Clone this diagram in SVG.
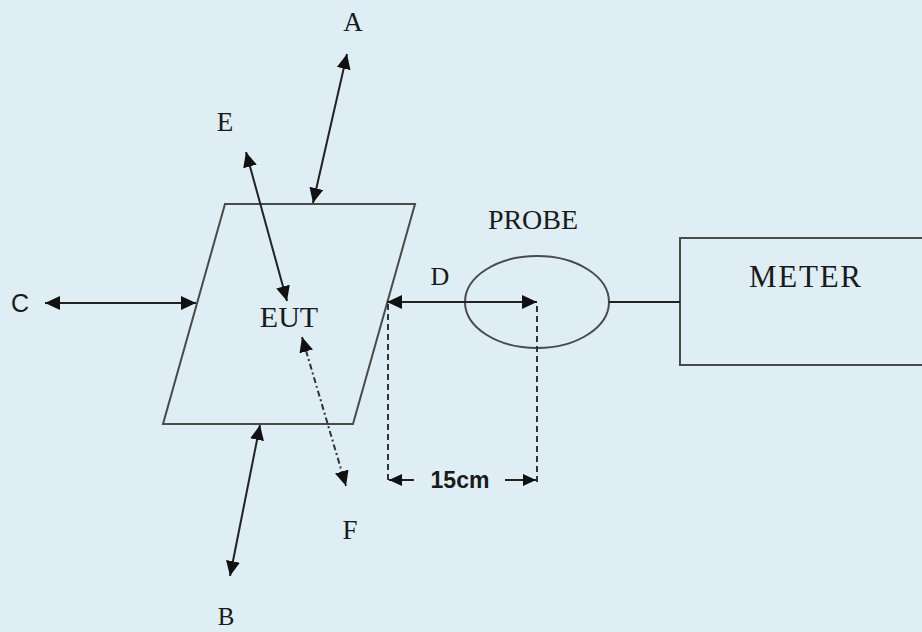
<svg xmlns="http://www.w3.org/2000/svg" width="922" height="632" viewBox="0 0 922 632">
<defs>
<marker id="ah" markerUnits="userSpaceOnUse" markerWidth="16" markerHeight="14" refX="15" refY="7" orient="auto-start-reverse" viewBox="0 0 16 14">
<path d="M0,0 L15,7 L0,14 z" fill="#111"/>
</marker>
<marker id="ahs" markerUnits="userSpaceOnUse" markerWidth="14" markerHeight="12" refX="13" refY="6" orient="auto-start-reverse" viewBox="0 0 14 12">
<path d="M0,0 L13,6 L0,12 z" fill="#111"/>
</marker>
</defs>
<style>
.serif{font-family:"Liberation Serif","Times New Roman",serif;fill:#1a1a1a}
.sans{font-family:"Liberation Sans",Arial,sans-serif;fill:#1a1a1a}
.shape{fill:none;stroke:#4a4a4a;stroke-width:2}
.conn{fill:none;stroke:#222;stroke-width:2}
.dash{fill:none;stroke:#333;stroke-width:2;stroke-dasharray:6,4}
.dot{fill:none;stroke:#333;stroke-width:2;stroke-dasharray:6,3,2,3}
</style>
<rect x="0" y="0" width="922" height="632" fill="#deeef4"/>
<g id="eut">
<polygon class="shape" points="225,204 415,204 353,424 163,424"/>
<text class="serif" x="289" y="327" font-size="30" text-anchor="middle">EUT</text>
</g>
<g id="probe">
<ellipse class="shape" cx="537" cy="302" rx="72" ry="46"/>
<text class="serif" x="533" y="229" font-size="28" text-anchor="middle">PROBE</text>
</g>
<g id="meter">
<rect class="shape" x="680" y="238" width="260" height="127"/>
<text class="serif" x="805" y="287" font-size="31" text-anchor="middle" textLength="112" lengthAdjust="spacing">METER</text>
</g>
<g id="label-a"><text class="serif" x="353" y="31" font-size="27" text-anchor="middle">A</text></g>
<g id="label-e"><text class="serif" x="225" y="131" font-size="27" text-anchor="middle">E</text></g>
<g id="label-c"><text class="sans" x="20" y="312" font-size="25" text-anchor="middle">C</text></g>
<g id="label-d"><text class="serif" x="440" y="285" font-size="26" text-anchor="middle">D</text></g>
<g id="label-f"><text class="serif" x="350" y="539" font-size="27" text-anchor="middle">F</text></g>
<g id="label-b"><text class="serif" x="226" y="625" font-size="25" text-anchor="middle">B</text></g>
<g id="label-15cm"><text class="sans" x="460" y="488" font-size="23" font-weight="bold" text-anchor="middle">15cm</text></g>
<g id="connectors">
<line class="conn" x1="347" y1="54" x2="313" y2="203" marker-start="url(#ah)" marker-end="url(#ah)"/>
<line class="conn" x1="246" y1="152" x2="287" y2="301" marker-start="url(#ah)" marker-end="url(#ah)"/>
<line class="conn" x1="45" y1="303" x2="196" y2="303" marker-start="url(#ah)" marker-end="url(#ah)"/>
<line class="conn" x1="387" y1="302" x2="537" y2="302" marker-start="url(#ah)" marker-end="url(#ah)"/>
<line class="dot" x1="302" y1="337" x2="346" y2="486" marker-start="url(#ah)" marker-end="url(#ah)"/>
<line class="conn" x1="260" y1="425" x2="230" y2="576" marker-start="url(#ah)" marker-end="url(#ah)"/>
<line class="conn" x1="609" y1="302" x2="680" y2="302"/>
<line class="dash" x1="388" y1="304" x2="388" y2="484"/>
<line class="dash" x1="537" y1="306" x2="537" y2="484"/>
<line class="conn" x1="414" y1="480" x2="389" y2="480" marker-end="url(#ahs)"/>
<line class="conn" x1="505" y1="480" x2="536" y2="480" marker-end="url(#ahs)"/>
</g>
</svg>
